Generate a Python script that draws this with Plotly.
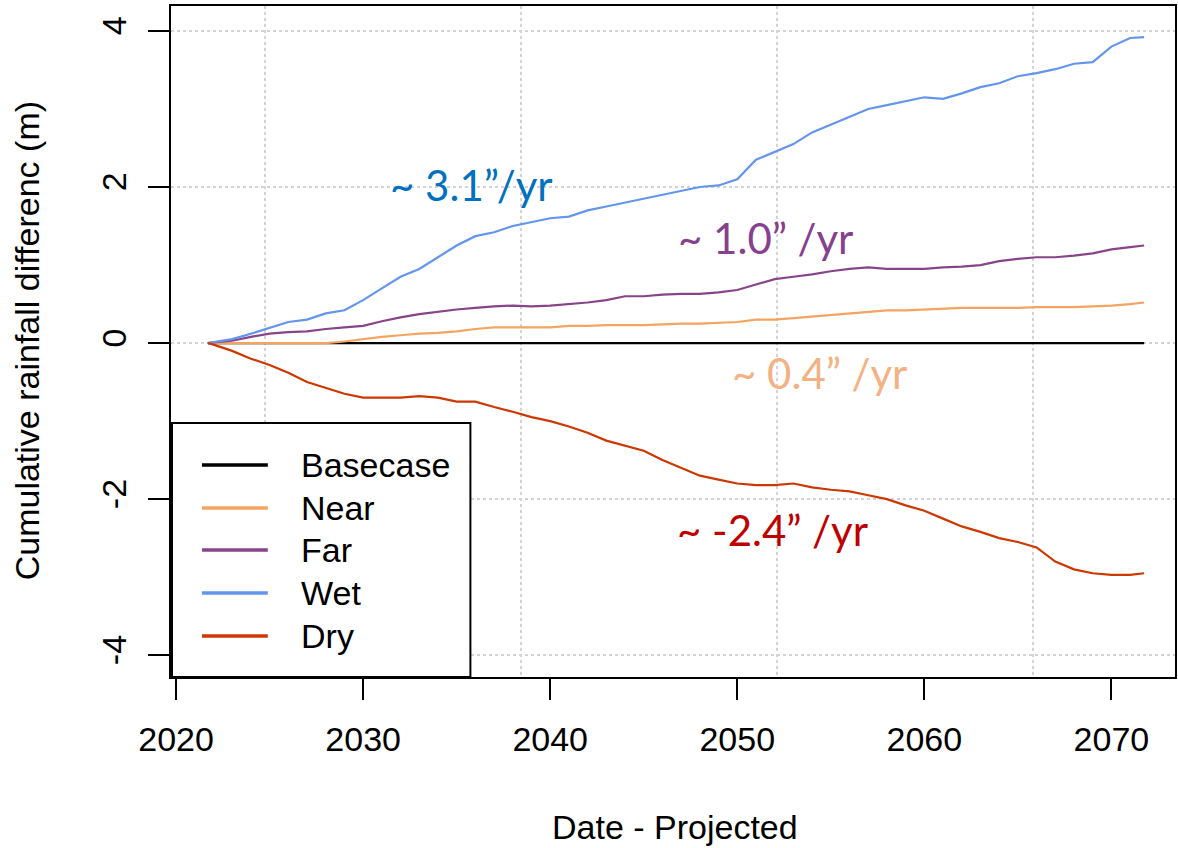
import plotly.graph_objects as go

# ---------------- data ----------------
years = [2021.7, 2022, 2023, 2024, 2025, 2026, 2027, 2028, 2029, 2030,
         2031, 2032, 2033, 2034, 2035, 2036, 2037, 2038, 2039, 2040,
         2041, 2042, 2043, 2044, 2045, 2046, 2047, 2048, 2049, 2050,
         2051, 2052, 2053, 2054, 2055, 2056, 2057, 2058, 2059, 2060,
         2061, 2062, 2063, 2064, 2065, 2066, 2067, 2068, 2069, 2070,
         2071, 2071.75]

basecase = [0.0] * len(years)

near = [0.0, 0.0, 0.0, 0.0, 0.0, 0.0, 0.0, 0.0, 0.02, 0.05,
        0.08, 0.10, 0.12, 0.13, 0.15, 0.18, 0.20, 0.20, 0.20, 0.20,
        0.22, 0.22, 0.23, 0.23, 0.23, 0.24, 0.25, 0.25, 0.26, 0.27,
        0.30, 0.30, 0.32, 0.34, 0.36, 0.38, 0.40, 0.42, 0.42, 0.43,
        0.44, 0.45, 0.45, 0.45, 0.45, 0.46, 0.46, 0.46, 0.47, 0.48,
        0.50, 0.52]

far = [0.0, 0.01, 0.03, 0.08, 0.12, 0.14, 0.15, 0.18, 0.20, 0.22,
       0.28, 0.33, 0.37, 0.40, 0.43, 0.45, 0.47, 0.48, 0.47, 0.48,
       0.50, 0.52, 0.55, 0.60, 0.60, 0.62, 0.63, 0.63, 0.65, 0.68,
       0.75, 0.82, 0.85, 0.88, 0.92, 0.95, 0.97, 0.95, 0.95, 0.95,
       0.97, 0.98, 1.00, 1.05, 1.08, 1.10, 1.10, 1.12, 1.15, 1.20,
       1.23, 1.25]

wet = [0.0, 0.01, 0.05, 0.12, 0.20, 0.27, 0.30, 0.38, 0.42, 0.55,
       0.70, 0.85, 0.95, 1.10, 1.25, 1.37, 1.42, 1.50, 1.55, 1.60,
       1.62, 1.70, 1.75, 1.80, 1.85, 1.90, 1.95, 2.00, 2.02, 2.10,
       2.35, 2.45, 2.55, 2.70, 2.80, 2.90, 3.00, 3.05, 3.10, 3.15,
       3.13, 3.20, 3.28, 3.33, 3.42, 3.46, 3.51, 3.58, 3.60, 3.80,
       3.91, 3.92]

dry = [0.0, -0.02, -0.10, -0.20, -0.28, -0.38, -0.50, -0.58, -0.65, -0.70,
       -0.70, -0.70, -0.68, -0.70, -0.75, -0.75, -0.82, -0.88, -0.95, -1.00,
       -1.07, -1.15, -1.25, -1.32, -1.38, -1.50, -1.60, -1.70, -1.75, -1.80,
       -1.82, -1.82, -1.80, -1.85, -1.88, -1.90, -1.95, -2.00, -2.08, -2.15,
       -2.25, -2.35, -2.42, -2.50, -2.55, -2.62, -2.80, -2.90, -2.95, -2.97,
       -2.97, -2.95]

series_names = ["Basecase", "Near", "Far", "Wet", "Dry"]
series_values = [basecase, near, far, wet, dry]
series_colors = ["#000000", "#F4A460", "#884488", "#6495ED", "#CD3700"]

x_ticks = [2020, 2030, 2040, 2050, 2060, 2070]
y_ticks = [-4, -2, 0, 2, 4]
y_tick_labels = ["-4", "-2", "0", "2", "4"]
grid_days = [20000, 25000, 30000, 35000]  # R grid() positions (days since 1970)

rate_labels = ["~ 3.1\u201d/yr", "~ 1.0\u201d /yr", "~ 0.4\u201d /yr", "~ -2.4\u201d /yr"]
rate_x = [2035.8, 2051.5, 2054.4, 2051.9]
rate_y = [2.03, 1.35, -0.38, -2.40]
rate_colors = ["#0070C0", "#86408E", "#F4B183", "#C00000"]

x_title = "Date - Projected"
y_title = "Cumulative rainfall differenc (m)"

# ---------------- figure ----------------
W, H = 1178, 848
L, R, T, B = 171, 1, 6, 171
FONT = "Liberation Sans, Arial, sans-serif"
FS = 34

fig = go.Figure()

grid_years = [1970 + d / 365.2425 for d in grid_days]
# invisible trace on secondary x axis to carry the vertical grid
fig.add_trace(go.Scatter(x=grid_years, y=[0] * len(grid_years), xaxis="x2",
                         mode="markers", marker=dict(opacity=0),
                         showlegend=False, hoverinfo="skip"))

for name, vals, col in zip(series_names, series_values, series_colors):
    fig.add_trace(go.Scatter(x=years, y=vals, mode="lines", name=name,
                             line=dict(color=col, width=2.2), showlegend=False))

xr = [2019.73, 2073.4]
fig.update_layout(
    width=W, height=H,
    margin=dict(l=L, r=R, t=T, b=B),
    paper_bgcolor="white", plot_bgcolor="white",
    font=dict(family=FONT, size=FS, color="black"),
    xaxis=dict(range=xr, tickvals=x_ticks, ticktext=[str(v) for v in x_ticks],
               ticks="outside", ticklen=21, tickwidth=2, tickcolor="black",
               showgrid=False, zeroline=False, showline=True, linecolor="black",
               linewidth=2, mirror=True, ticklabelstandoff=10),
    xaxis2=dict(range=xr, overlaying="x", tickvals=grid_years, showticklabels=False,
                showgrid=True, gridcolor="#D3D3D3", griddash="dot", gridwidth=2,
                zeroline=False, showline=False, ticks=""),
    yaxis=dict(range=[-4.28, 4.32], tickvals=y_ticks, ticktext=y_tick_labels,
               tickangle=-90, ticks="outside", ticklen=21, tickwidth=2,
               tickcolor="black", showgrid=True, gridcolor="#D3D3D3",
               griddash="dot", gridwidth=2, zeroline=False, showline=True,
               linecolor="black", linewidth=2, mirror=True, ticklabelstandoff=8),
    showlegend=False,
)

pw, ph = W - L - R, H - T - B
def px_x(p):
    return (p - L) / pw
def px_y(p):
    return (H - B - p) / ph

# axis titles
fig.add_annotation(xref="paper", yref="paper", x=px_x(676), y=px_y(827),
                   text=x_title, showarrow=False, xanchor="center", yanchor="middle",
                   font=dict(family=FONT, size=FS, color="black"))
fig.add_annotation(xref="paper", yref="paper", x=px_x(27), y=px_y(341),
                   text=y_title, showarrow=False, xanchor="center", yanchor="middle",
                   textangle=-90, font=dict(family=FONT, size=FS, color="black"))

# rate annotations
for txt, xv, yv, col in zip(rate_labels, rate_x, rate_y, rate_colors):
    fig.add_annotation(x=xv, y=yv, xref="x", yref="y", text=txt, showarrow=False,
                       font=dict(family="Lato, Open Sans, sans-serif", size=42, color=col),
                       xanchor="center", yanchor="middle")

# manual legend (R style box)
fig.add_shape(type="rect", xref="paper", yref="paper",
              x0=px_x(172), x1=px_x(471), y0=px_y(677), y1=px_y(423),
              line=dict(color="black", width=2), fillcolor="white", layer="above")
row_y = [465, 508, 550, 593, 636]
for name, col, ry in zip(series_names, series_colors, row_y):
    fig.add_shape(type="line", xref="paper", yref="paper",
                  x0=px_x(202), x1=px_x(268), y0=px_y(ry), y1=px_y(ry),
                  line=dict(color=col, width=3.5), layer="above")
    fig.add_annotation(xref="paper", yref="paper", x=px_x(299), y=px_y(ry),
                       text=name, showarrow=False, xanchor="left", yanchor="middle",
                       font=dict(family=FONT, size=FS, color="black"))

fig.write_html("out.html", config={"displayModeBar": False},
               post_script="document.body.style.margin='0';document.body.style.overflow='hidden';")
